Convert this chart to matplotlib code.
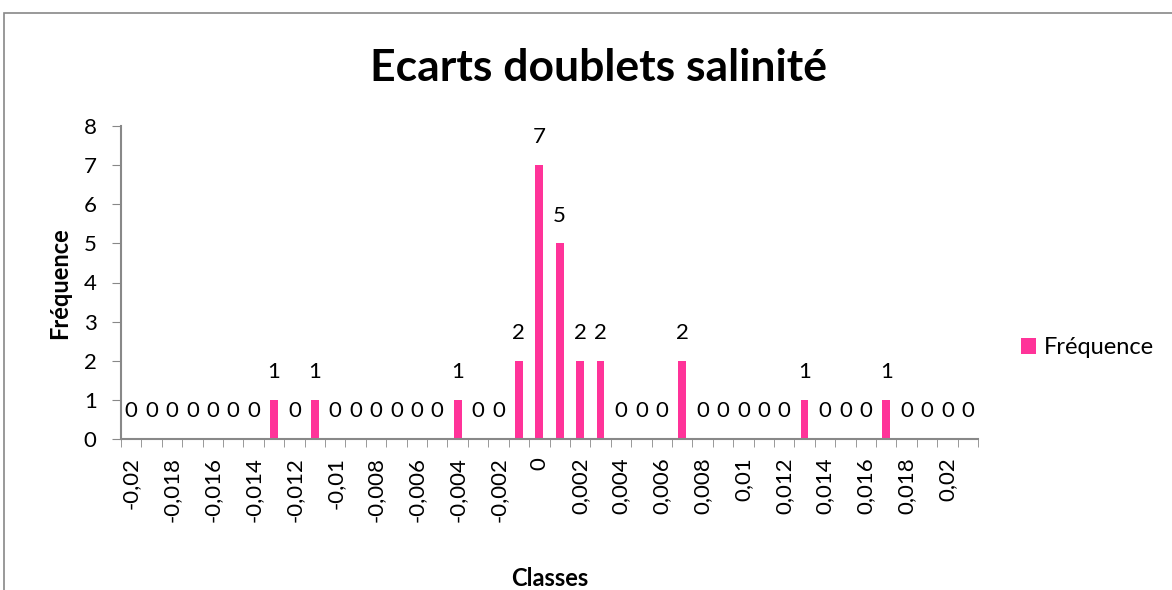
import matplotlib.pyplot as plt
from matplotlib.patches import Rectangle

plt.rcParams['font.family'] = ['Lato', 'DejaVu Sans']

# classes -0,02 .. 0,02 by 0,001, plus the "Autre" bin
classes = ['-0,02', '-0,019', '-0,018', '-0,017', '-0,016', '-0,015', '-0,014',
           '-0,013', '-0,012', '-0,011', '-0,01', '-0,009', '-0,008', '-0,007',
           '-0,006', '-0,005', '-0,004', '-0,003', '-0,002', '-0,001', '0',
           '0,001', '0,002', '0,003', '0,004', '0,005', '0,006', '0,007',
           '0,008', '0,009', '0,01', '0,011', '0,012', '0,013', '0,014',
           '0,015', '0,016', '0,017', '0,018', '0,019', '0,02', 'Autre']
frequence = [0, 0, 0, 0, 0, 0, 0, 1, 0, 1, 0, 0, 0, 0, 0, 0, 1, 0, 0, 2, 7,
             5, 2, 2, 0, 0, 0, 2, 0, 0, 0, 0, 0, 1, 0, 0, 0, 1, 0, 0, 0, 0]

pink = '#FF3399'
grey = '#888888'

fig = plt.figure(figsize=(11.72, 5.9), dpi=100)
fig.patches.append(Rectangle((4 / 1172, -0.1), 1.2, 1 - 13 / 590 + 0.1,
                             transform=fig.transFigure, fill=False,
                             edgecolor=grey, linewidth=1.2))

ax = fig.add_axes([121 / 1172, 1 - 439 / 590, (978 - 121) / 1172, (439 - 126) / 590])
x = range(len(classes))
bars = ax.bar(x, frequence, width=0.38, color=pink, label='Fréquence')

# value labels above each bar
for xi, v in zip(x, frequence):
    ax.annotate(str(v), (xi, v), xytext=(0, 20), textcoords='offset points',
                ha='center', va='center', fontsize=16)

ax.set_xlim(-0.5, len(classes) - 0.5)
ax.set_ylim(0, 8)
ax.set_yticks(range(9))
ax.tick_params(axis='y', labelsize=16, length=6.5, color=grey, pad=11)

ax.set_xticks(list(x)[::2])
ax.set_xticklabels(classes[::2], rotation=90, fontsize=16)
ax.set_xticks([i - 0.5 for i in range(len(classes) + 1)], minor=True)
ax.tick_params(axis='x', which='major', length=0, pad=13)
ax.tick_params(axis='x', which='minor', length=6, color=grey)

for s in ['top', 'right']:
    ax.spines[s].set_visible(False)
for s in ['left', 'bottom']:
    ax.spines[s].set_color(grey)
    ax.spines[s].set_linewidth(1.5)

fig.text(60 / 1172, 1 - 283 / 590, 'Fréquence', fontsize=17, fontweight='bold',
         rotation=90, ha='center', va='center')
fig.text(550 / 1172, 1 - 578 / 590, 'Classes', fontsize=17, fontweight='bold',
         ha='center', va='center')
fig.text(598 / 1172, 1 - 68 / 590, 'Ecarts doublets salinité', fontsize=32,
         fontweight='bold', ha='center', va='center')

ax.legend(loc='center left', bbox_to_anchor=(1021 / 1172, 1 - 348 / 590),
          bbox_transform=fig.transFigure, frameon=False, fontsize=17,
          handlelength=0.65, handleheight=0.65, handletextpad=0.3,
          borderpad=0, borderaxespad=0)

fig.savefig('out.png', dpi=100)
